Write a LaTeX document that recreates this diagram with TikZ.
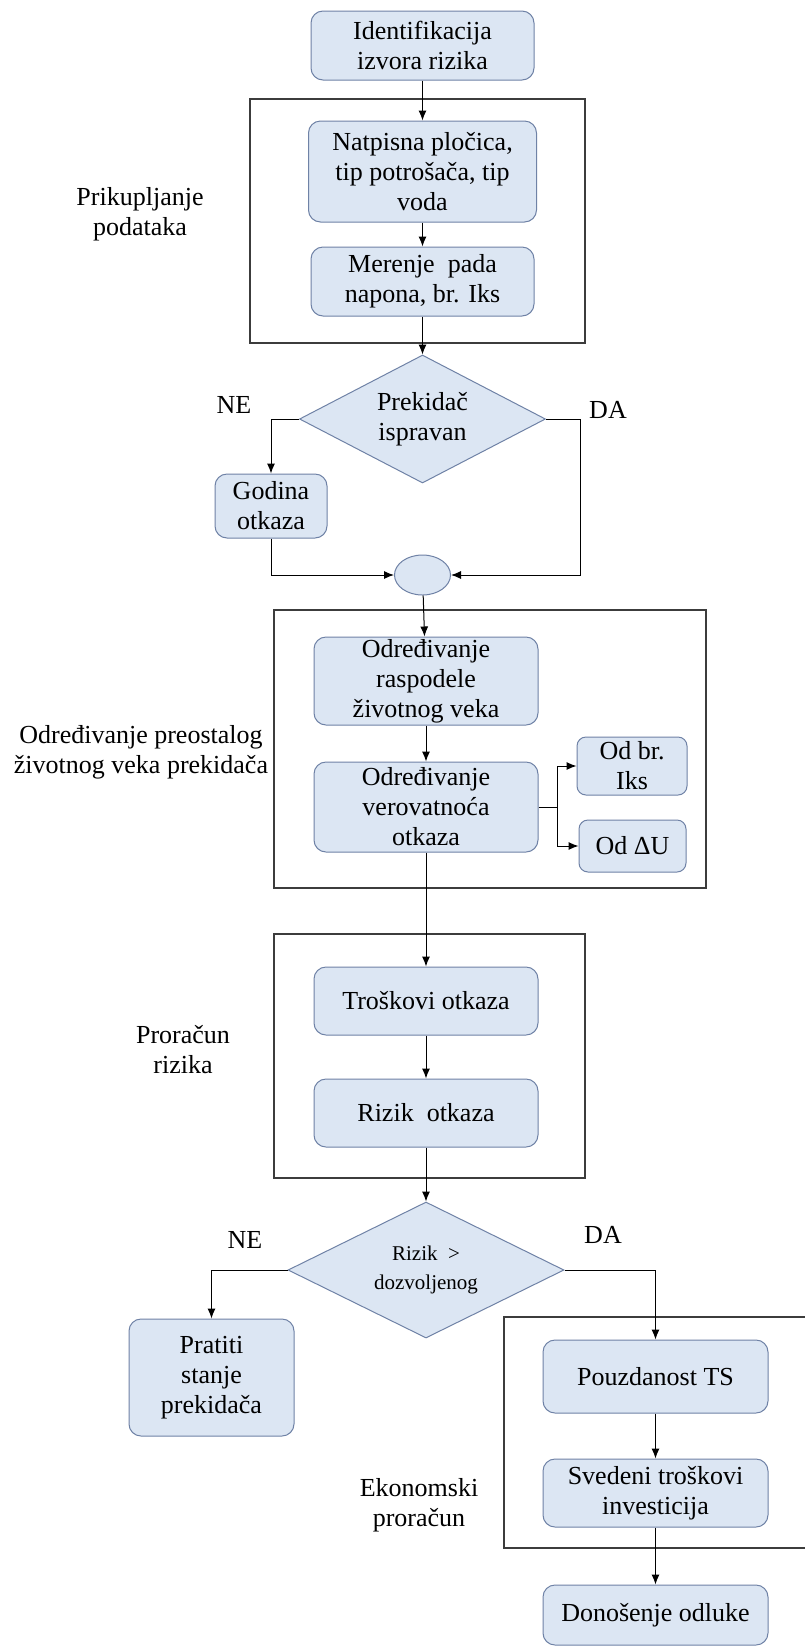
\documentclass[tikz,border=0pt]{standalone}
\usepackage{fontspec}
\setmainfont{LiberationSerif}[Extension=.ttf, UprightFont=*-Regular, BoldFont=*-Bold, ItalicFont=*-Italic, BoldItalicFont=*-BoldItalic]
\usetikzlibrary{shapes.geometric,arrows.meta}
\definecolor{boxfill}{HTML}{DCE6F3}
\definecolor{boxline}{HTML}{6F82A6}
\definecolor{grpline}{HTML}{3C3C3C}
\newcommand{\mainsz}{\fontsize{26}{30}\selectfont}
\newcommand{\decsz}{\fontsize{21}{29}\selectfont}
\begin{document}
\begin{tikzpicture}[x=1pt,y=-1pt,
  proc/.style={rectangle, rounded corners=12pt, draw=boxline, fill=boxfill, line width=1pt, align=center, inner sep=0pt, font=\mainsz},
  dec/.style={diamond, draw=boxline, fill=boxfill, line width=1pt, align=center, inner sep=0pt},
  grp/.style={draw=grpline, line width=1.5pt},
  arr/.style={-{Latex[length=10pt,width=8pt]}, line width=1pt, black},
  lnk/.style={line width=1pt, black},
  lbl/.style={align=center, font=\mainsz, inner sep=0pt}]
\useasboundingbox (0,0) rectangle (804,1650);
\fill[white] (0,0) rectangle (804,1650);
% group frames
\draw[grp] (250,99) rectangle (585,343);
\draw[grp] (274,610) rectangle (706,888);
\draw[grp] (274,934) rectangle (585,1178);
\draw[grp] (810,1317) -- (504,1317) -- (504,1548) -- (810,1548);
% nodes
\node[proc, minimum width=223pt, minimum height=69pt] (id) at (422.5,45.5) {Identifikacija\\izvora rizika};
\node[proc, minimum width=228pt, minimum height=101pt] (nat) at (422.5,171.5) {Natpisna pločica,\\tip potrošača, tip\\voda};
\node[proc, minimum width=223pt, minimum height=69pt] (mer) at (422.5,281.5) {Merenje\ \ pada\\napona, br. Iks};
\node[lbl] (lA) at (140,214) {Prikupljanje\\podataka};
\node[dec, aspect=1.92, minimum width=246pt, minimum height=128pt, font=\mainsz] (d1) at (422.5,419) {Prekidač\\ispravan};
\node[lbl] (ne1) at (234,405) {NE};
\node[lbl] (da1) at (608,410) {DA};
\node[proc, minimum width=112pt, minimum height=64pt] (god) at (271,506) {Godina\\otkaza};
\node[ellipse, draw=boxline, fill=boxfill, line width=1pt, minimum width=56pt, minimum height=40pt, inner sep=0pt] (ell) at (422.5,575) {};
\node[proc, minimum width=224pt, minimum height=88pt] (odr1) at (426,681) {Određivanje\\raspodele\\životnog veka};
\node[proc, minimum width=224pt, minimum height=90pt] (odr2) at (426,807) {Određivanje\\verovatnoća\\otkaza};
\node[lbl] (lB) at (141,752) {Određivanje preostalog\\životnog veka prekidača};
\node[proc, rounded corners=9pt, minimum width=110pt, minimum height=58pt] (iks) at (632,766) {Od br.\\Iks};
\node[proc, rounded corners=9pt, minimum width=107pt, minimum height=52pt] (du) at (632.5,846) {Od ΔU};
\node[proc, minimum width=224pt, minimum height=68pt] (tros) at (426,1001) {Troškovi otkaza};
\node[proc, minimum width=224pt, minimum height=68pt] (riz) at (426,1113) {Rizik\ \ otkaza};
\node[lbl] (lC) at (183,1050) {Proračun\\rizika};
\node[dec, aspect=2.03, minimum width=276pt, minimum height=136pt, font=\decsz] (d2) at (426,1270) {Rizik\ \ >\\dozvoljenog};
\node[lbl] (ne2) at (245,1240) {NE};
\node[lbl] (da2) at (603,1235) {DA};
\node[proc, minimum width=165pt, minimum height=117pt] (prat) at (211.5,1377.5) {Pratiti\\stanje\\prekidača};
\node[proc, minimum width=225pt, minimum height=73pt] (pouz) at (655.5,1376.5) {Pouzdanost TS};
\node[proc, minimum width=225pt, minimum height=68pt] (sved) at (655.5,1493) {Svedeni troškovi\\investicija};
\node[lbl] (lD) at (419,1505) {Ekonomski\\proračun};
\node[proc, minimum width=225pt, minimum height=60pt] (don) at (655.5,1615) {Donošenje odluke};
% helper points
\coordinate (daR) at (580,419);
\coordinate (br) at (557,807);
% connectors
\draw[arr] (id) -- (nat);
\draw[arr] (nat) -- (mer);
\draw[arr] (mer) -- (d1);
\draw[arr] (d1.west) -| (god.north);
\draw[arr] (d1.east) -- (daR) |- (ell.east);
\draw[arr] (god.south) |- (ell.west);
\draw[arr] (ell) -- (odr1);
\draw[arr] (odr1) -- (odr2);
\draw[lnk] (odr2.east) -- (br);
\draw[arr] (br) |- (iks.west);
\draw[arr] (br) |- (du.west);
\draw[arr] (odr2) -- (tros);
\draw[arr] (tros) -- (riz);
\draw[arr] (riz) -- (d2);
\draw[arr] (d2.west) -| (prat.north);
\draw[arr] (d2.east) -| (pouz.north);
\draw[arr] (pouz) -- (sved);
\draw[arr] (sved) -- (don);
\end{tikzpicture}
\end{document}
